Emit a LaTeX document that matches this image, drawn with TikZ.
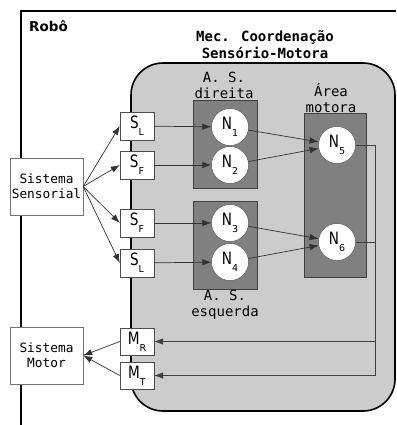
\documentclass[tikz,border=0pt]{standalone}
\usepackage{fontspec}
\usepackage{graphicx}
\setmainfont{DejaVu Sans}
\newfontfamily\mono{DejaVu Sans Mono}
\usetikzlibrary{arrows.meta}
\newcommand{\sublab}[2]{\scalebox{0.8}[1]{\fontsize{17}{17}\selectfont #1}\raisebox{-7pt}{\fontsize{9.5}{9.5}\selectfont #2}}
\tikzset{
  sensbox/.style={draw=black!70, fill=white, minimum width=34pt, minimum height=28pt, inner sep=0pt},
  neur/.style={circle, draw=black!70, fill=white, minimum size=37pt, inner sep=0pt},
  sysbox/.style={draw=black!55, fill=white, minimum width=73pt, minimum height=57pt, inner sep=0pt, align=center, font=\mono\fontsize{12.8}{15}\selectfont},
  area/.style={draw=black!75, fill=black!50, inner sep=0pt},
  conn/.style={draw=black!80, line width=0.7pt, -{Latex[length=9pt,width=6.5pt]}},
  fb/.style={draw=black!75, line width=0.6pt, -{Latex[length=9pt,width=6.5pt]}},
  lbl/.style={align=center, inner sep=0pt, font=\mono\fontsize{14}{16}\selectfont},
}
\begin{document}
\begin{tikzpicture}[x=1pt,y=-1pt]
\useasboundingbox (0,0) rectangle (396,425);
% outer frame
\draw[line width=1.6pt] (21,425) -- (21,11) -- (396,11);
\node[anchor=west, inner sep=0pt, font=\bfseries\fontsize{13.5}{13.5}\selectfont] (robo) at (29,26) {Robô};
% coordination region
\draw[line width=1.6pt, fill=black!20, rounded corners=32pt] (131,63) rectangle (395,411);
\node[lbl, font=\mono\bfseries\fontsize{14}{17}\selectfont] (title) at (265,44.5) {Mec. Coordenação\\Sensório-Motora};
% areas
\node[area, minimum width=64pt, minimum height=88pt] (dir) at (225,144) {};
\node[area, minimum width=64pt, minimum height=88pt] (esq) at (225,245) {};
\node[area, minimum width=62pt, minimum height=164pt] (mot) at (335,195) {};
\node[lbl] (ldir) at (224,85) {A. S.\\direita};
\node[lbl] (lmot) at (331,98) {Área\\motora};
\node[lbl] (lesq) at (225,305) {A. S.\\esquerda};
% neurons
\node[neur] (n1) at (230,127) {\sublab{N}{1}};
\node[neur] (n2) at (230,165) {\sublab{N}{2}};
\node[neur] (n3) at (230,223) {\sublab{N}{3}};
\node[neur] (n4) at (230,262) {\sublab{N}{4}};
\node[neur] (n5) at (337,145) {\sublab{N}{5}};
\node[neur] (n6) at (337,242) {\sublab{N}{6}};
% sensor / motor boxes
\node[sensbox] (sl1) at (137,126) {\sublab{S}{L}};
\node[sensbox] (sf1) at (137,165) {\sublab{S}{F}};
\node[sensbox] (sf2) at (137,223) {\sublab{S}{F}};
\node[sensbox] (sl2) at (137,263) {\sublab{S}{L}};
\node[sensbox, minimum height=27pt] (mr) at (137,341.5) {\sublab{M}{R}};
\node[sensbox, minimum height=27pt] (mt) at (137,375.5) {\sublab{M}{T}};
% systems
\node[sysbox] (ss) at (46.5,186.5) {Sistema\\Sensorial};
\node[sysbox] (sm) at (46.5,355.5) {Sistema\\Motor};
% connectors
\foreach \t in {sl1,sf1,sf2,sl2} \draw[conn] (ss.east) -- (\t.west);
\draw[conn] (sl1) -- (n1);
\draw[conn] (sf1) -- (n2);
\draw[conn] (sf2) -- (n3);
\draw[conn] (sl2) -- (n4);
\draw[conn] (n1) -- (n5);
\draw[conn] (n2) -- (n5);
\draw[conn] (n3) -- (n6);
\draw[conn] (n4) -- (n6);
\coordinate (col) at (375,0);
\draw[fb] (n5.east) -- (n5.east -| col) |- (mr.east);
\draw[fb] (n6.east) -- (n6.east -| col) |- (mt.east);
\draw[conn] (mr.west) -- (sm.east);
\draw[conn] (mt.west) -- (sm.east);
\end{tikzpicture}
\end{document}
